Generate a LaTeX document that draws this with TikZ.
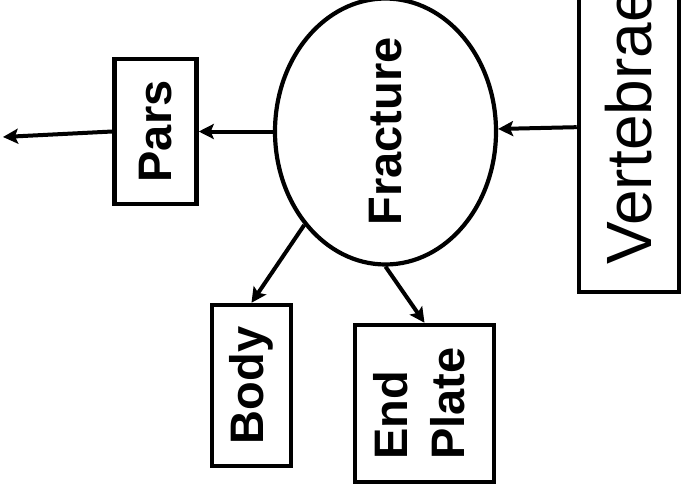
\documentclass[tikz,border=0pt]{standalone}
\usepackage{fontspec}
\setmainfont{Liberation Sans}
\usetikzlibrary{shapes.geometric,arrows.meta}
\begin{document}
\begin{tikzpicture}[x=1pt,y=-1pt,
  box/.style={draw,line width=4.5pt,inner sep=0pt,align=center,
    font=\fontsize{47}{57}\selectfont\bfseries},
  oval/.style={draw,ellipse,line width=4.2pt,inner sep=0pt,
    font=\fontsize{47}{57}\selectfont\bfseries},
  conn/.style={line width=4pt,-{Stealth[length=15pt,width=15pt,inset=3pt]}}]
\clip (0,0) rectangle (682,493);
\fill[white] (0,0) rectangle (682,493);
\node[oval,minimum width=221pt,minimum height=253pt] (frac) at (385.5,131.5) {\rotatebox{90}{Fracture}};
\node[box,minimum width=82pt,minimum height=145pt] (pars) at (155.5,131.5) {\rotatebox{90}{Pars}};
\node[box,minimum width=79pt,minimum height=161pt] (body) at (251.5,385.5) {\rotatebox{90}{Body}};
\node[box,minimum width=139pt,minimum height=157pt] (endp) at (424.5,403.5) {\rotatebox{90}{\begin{tabular}{@{}l@{}}End\\Plate\end{tabular}}};
\node[box,font=\fontsize{64}{70}\selectfont,minimum width=100pt,minimum height=332pt] (vert) at (629,126) {\rotatebox{90}{Vertebrae}};
\coordinate (out) at (3,137);
\draw[conn] (vert) -- (frac);
\draw[conn] (frac) -- (pars);
\draw[conn] (pars.west) -- (out);
\draw[conn] (frac.229) -- (body.north);
\draw[conn] (frac.south) -- (endp.north);
\end{tikzpicture}
\end{document}
